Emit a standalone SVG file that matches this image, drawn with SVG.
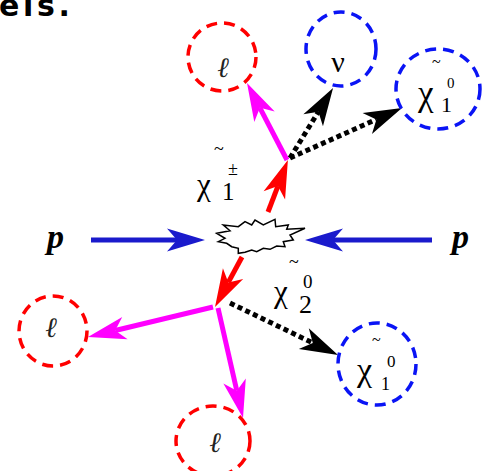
<svg xmlns="http://www.w3.org/2000/svg" width="489" height="471" viewBox="0 0 489 471">
<style>
.bg{fill:#fff}
.ring{fill:none;stroke-width:3.5;stroke-dasharray:11 7}
.red{stroke:#ff0000}
.blu{stroke:#0a14f5}
.lab{font-family:"Liberation Serif","DejaVu Serif",serif;fill:#000}
.ell{font-family:"Liberation Serif","DejaVu Serif",serif;font-style:italic;fill:#222;text-anchor:middle}
.arr{fill:none;stroke-width:5}
.dot{fill:none;stroke:#000;stroke-width:5;stroke-dasharray:5 3.5}
.p{font-family:"Liberation Serif",serif;font-weight:bold;font-style:italic;font-size:34px;fill:#000}
</style>
<defs>
<marker id="mb" markerUnits="userSpaceOnUse" orient="auto" refX="0" refY="0" markerWidth="60" markerHeight="30" overflow="visible"><path d="M28,0 L-10,-11.5 L0,0 L-10,11.5 Z" fill="#1a1acc"/></marker>
<marker id="mr" markerUnits="userSpaceOnUse" orient="auto" refX="0" refY="0" markerWidth="60" markerHeight="30" overflow="visible"><path d="M28,0 L-10,-11.5 L0,0 L-10,11.5 Z" fill="#ff0000"/></marker>
<marker id="mm" markerUnits="userSpaceOnUse" orient="auto" refX="0" refY="0" markerWidth="60" markerHeight="30" overflow="visible"><path d="M28,0 L-10,-11.5 L0,0 L-10,11.5 Z" fill="#ff00ff"/></marker>
<marker id="mk" markerUnits="userSpaceOnUse" orient="auto" refX="0" refY="0" markerWidth="60" markerHeight="30" overflow="visible"><path d="M28,0 L-10,-11.5 L0,0 L-10,11.5 Z" fill="#000"/></marker>
</defs>
<rect class="bg" x="0" y="0" width="489" height="471"/>
<text x="-1" y="16" font-family="'DejaVu Sans',sans-serif" font-weight="bold" font-size="30" textLength="71" fill="#000">els.</text>

<g id="connectors">
<line class="arr" stroke="#1a1acc" x1="91" y1="240" x2="177" y2="240" marker-end="url(#mb)"/>
<line class="arr" stroke="#1a1acc" x1="432" y1="240" x2="333" y2="240" marker-end="url(#mb)"/>
<line class="arr" stroke="#ff0000" x1="268" y1="212" x2="277.9" y2="186.1" marker-end="url(#mr)"/>
<line class="arr" stroke="#ff0000" x1="242" y1="257" x2="228.3" y2="282.4" marker-end="url(#mr)"/>
<line class="arr" stroke="#ff00ff" x1="287" y1="160" x2="259.9" y2="107.8" marker-end="url(#mm)"/>
<line class="dot" x1="290" y1="158" x2="318.4" y2="111.8" marker-end="url(#mk)"/>
<line class="dot" x1="290" y1="158" x2="376.4" y2="119.4" marker-end="url(#mk)"/>
<line class="arr" stroke="#ff00ff" x1="213" y1="307" x2="115.2" y2="330.5" marker-end="url(#mm)"/>
<line class="arr" stroke="#ff00ff" x1="218" y1="308" x2="236.8" y2="390.7" marker-end="url(#mm)"/>
<line class="dot" x1="230" y1="303" x2="312.8" y2="342.9" marker-end="url(#mk)"/>
</g>

<g id="collision">
<polygon points="216.7,233.3 230,230.7 223.3,225 238.3,226.7 245,221.7 251.7,225 255,220 263.3,225 275,219.3 275.7,226.7 288.3,225 286.7,229.3 305,228.3 290,235 293.3,240 283.3,241.7 285,246.7 276.7,246 270,249.3 263.3,248.3 256.7,251.7 251.7,250 245,252.3 238.3,253.3 238.3,248.3 231.7,246.7 226.7,243.3 218.3,241.7 225,238.3" fill="#fff" stroke="#000" stroke-width="1.5" stroke-linejoin="miter"/>
</g>

<g id="p-left"><text class="p" x="47" y="248">p</text></g>
<g id="p-right"><text class="p" x="452" y="248">p</text></g>

<g id="lepton-top">
<ellipse class="ring red" cx="222" cy="57" rx="34" ry="34"/>
<text class="ell" x="223" y="77" font-size="28">ℓ</text>
</g>
<g id="neutrino">
<ellipse class="ring blu" cx="341" cy="49" rx="35" ry="37"/>
<text class="lab" x="338" y="72" font-size="30" text-anchor="middle">ν</text>
</g>
<g id="neutralino-top">
<ellipse class="ring blu" cx="438" cy="89" rx="42" ry="40"/>
<text class="lab" x="418" y="105" font-size="35">χ</text>
<text class="lab" x="441" y="112" font-size="22">1</text>
<text class="lab" x="447" y="88" font-size="15">0</text>
<text class="lab" x="432" y="67" font-size="16">~</text>
</g>
<g id="chargino">
<text class="lab" x="197" y="195" font-size="31">χ</text>
<text class="lab" x="222" y="200" font-size="25">1</text>
<text class="lab" x="228" y="175" font-size="18">±</text>
<text class="lab" x="214" y="155" font-size="18">~</text>
</g>
<g id="neutralino2">
<text class="lab" x="274" y="302" font-size="31">χ</text>
<text class="lab" x="299" y="313" font-size="26">2</text>
<text class="lab" x="303" y="288" font-size="19">0</text>
<text class="lab" x="289" y="268" font-size="18">~</text>
</g>
<g id="lepton-left">
<ellipse class="ring red" cx="53" cy="331" rx="34" ry="35"/>
<text class="ell" x="51" y="337" font-size="28">ℓ</text>
</g>
<g id="lepton-bottom">
<ellipse class="ring red" cx="213" cy="441" rx="37" ry="35"/>
<text class="ell" x="215" y="452" font-size="28">ℓ</text>
</g>
<g id="neutralino-bottom">
<ellipse class="ring blu" cx="377" cy="364" rx="39" ry="41"/>
<text class="lab" x="357" y="381" font-size="34">χ</text>
<text class="lab" x="381" y="390" font-size="18">1</text>
<text class="lab" x="387" y="367" font-size="17">0</text>
<text class="lab" x="372" y="345" font-size="16">~</text>
</g>
</svg>
